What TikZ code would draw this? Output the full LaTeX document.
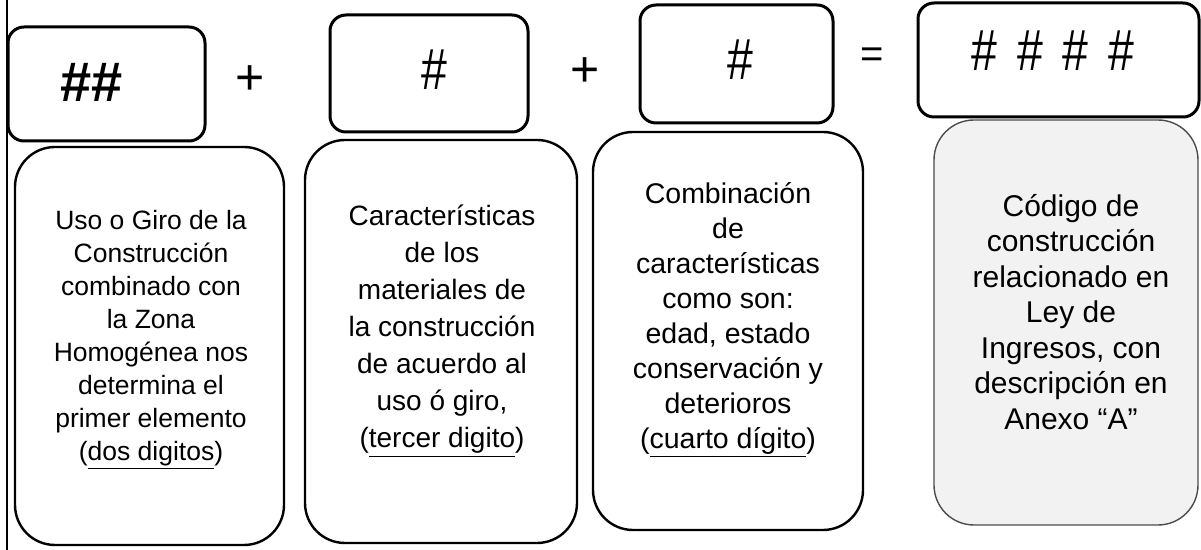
\documentclass[tikz,border=0pt]{standalone}
\usepackage{fontspec}
\setmainfont{Liberation Sans}
\newfontfamily\hashfont{Liberation Sans}[FakeStretch=0.8]
\usetikzlibrary{positioning}

\begin{document}
\begin{tikzpicture}[x=0.5pt, y=-0.5pt,
    digit/.style={draw, rounded corners=8pt, line width=1.5pt, minimum width=98.5pt, minimum height=57pt, inner sep=0pt},
    desc/.style={draw, rounded corners=20pt, line width=1.2pt, minimum width=135pt, minimum height=199pt, inner sep=0pt},
    txt/.style={align=center, font=\fontsize{14}{18}\selectfont, inner sep=0pt},
    sym/.style={font=\fontsize{29}{30}\selectfont, inner sep=0pt}
]
\useasboundingbox (0,0) rectangle (1201,550);
\draw[line width=0.8pt] (7,0) -- (7,550);
% top row: the digits of the code
\node[digit] (u) at (106.5,84) {};
\node[digit, minimum width=99pt, minimum height=58.5pt] (m) at (429,73.5) {};
\node[digit, minimum width=96.5pt, minimum height=59pt] (c) at (736.5,64) {};
\node[digit, minimum width=140.5pt] (k) at (1058.5,60) {};
\node[sym, font=\fontsize{28}{30}\selectfont\bfseries] (hu) at (92,82) {\#\#};
\node[sym, font=\fontsize{29}{30}\hashfont] (hm) at (434,70) {\#};
\node[sym, font=\fontsize{29}{30}\hashfont] (hc) at (740,60) {\#};
\node[sym, font=\fontsize{29}{30}\hashfont] (hk) at (1053,51) {\#\hspace{10pt}\#\hspace{10pt}\#\hspace{10pt}\#};
\node[sym, font=\fontsize{25}{30}\selectfont] (p1) at (250,80) {+};
\node[sym, font=\fontsize{25}{30}\selectfont] (p2) at (585,72) {+};
\node[sym, font=\fontsize{20}{30}\selectfont] (eq) at (872,58) {=};
% bottom row: what each part means
\node[desc, minimum width=134.5pt] (b1) at (149.5,346) {};
\node[desc, minimum width=136pt, minimum height=201.5pt] (b2) at (441,341.5) {};
\node[desc] (b3) at (728,331) {};
\node[desc, minimum width=132pt, minimum height=202.5pt, draw=black!70, line width=0.7pt, fill=black!5] (b4) at (1066,322.5) {};
\node[txt, font=\fontsize{13.25}{16.5}\selectfont] (t1) at (151,340) {Uso o Giro de la\\ Construcción\\ combinado con\\ la Zona\\ Homogénea nos\\ determina el\\ primer elemento\\ (\underline{dos digitos})};
\node[txt, font=\fontsize{14}{18.5}\selectfont] (t2) at (442,331) {Características\\ de los\\ materiales de\\ la construcción\\ de acuerdo al\\ uso ó giro,\\ (\underline{tercer digito})};
\node[txt, font=\fontsize{14.25}{17.5}\selectfont] (t3) at (728,320) {Combinación\\ de\\ características\\ como son:\\ edad, estado\\ conservación y\\ deterioros\\ (\underline{cuarto dígito})};
\node[txt, font=\fontsize{15}{17.75}\selectfont] (t4) at (1071,312) {Código de\\ construcción\\ relacionado en\\ Ley de\\ Ingresos, con\\ descripción en\\ Anexo “A”};
\end{tikzpicture}
\end{document}
